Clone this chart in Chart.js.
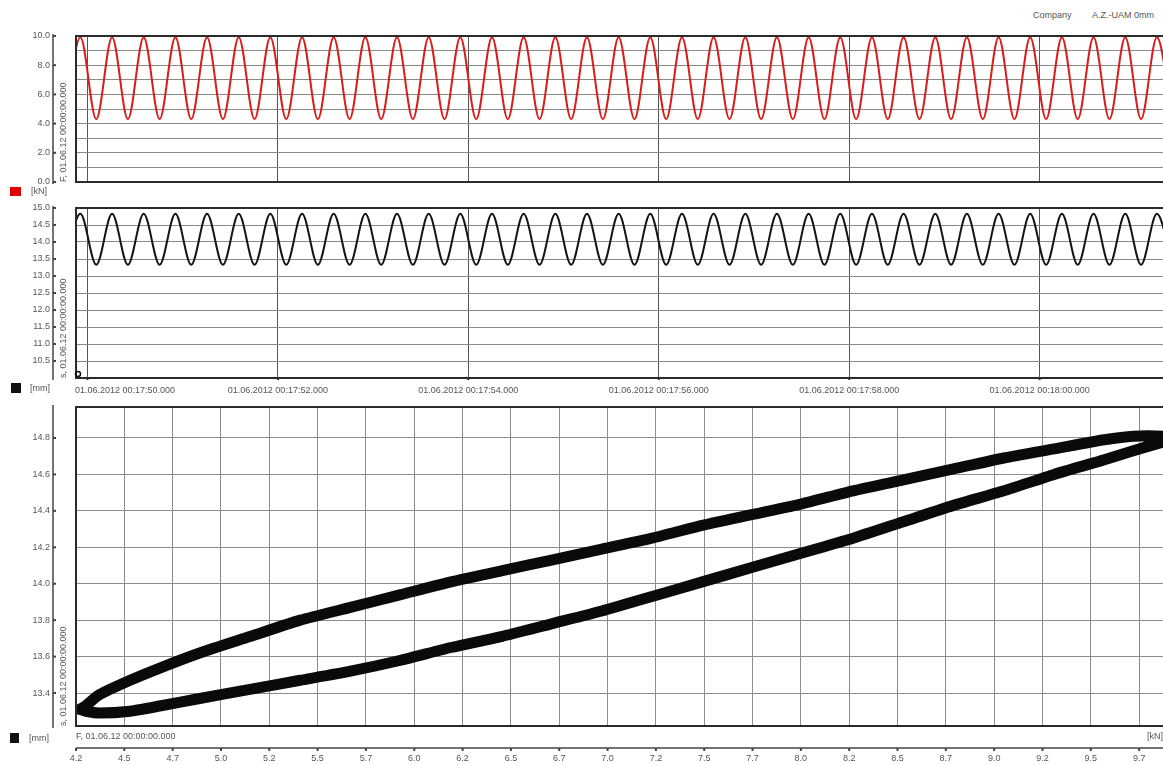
<!DOCTYPE html>
<html>
<head>
<meta charset="utf-8">
<script src="https://cdn.jsdelivr.net/npm/chart.js@4.4.1/dist/chart.umd.min.js"></script>
<style>
  html, body { margin: 0; padding: 0; background: #fff; overflow: hidden; }
  .wrap { position: relative; width: 1163px; height: 765px; overflow: hidden; font-family: 'Liberation Sans', Arial, sans-serif; }
  canvas { position: absolute; left: 0; }
  .lbl { position: absolute; font-size: 9px; line-height: 11px; white-space: nowrap; color: #555; }
  .sq { position: absolute; }
</style>
</head>
<body>
<div class="wrap">
  <div class="lbl" style="left:1033px; top:10px;">Company</div>
  <div class="lbl" style="left:1092px; top:10px;">A.Z.-UAM 0mm</div>

  <canvas id="forceChart" width="1172" height="200" style="top:0px;"></canvas>
  <canvas id="travelChart" width="1172" height="230" style="top:190px;"></canvas>
  <canvas id="loopChart" width="1172" height="370" style="top:395px;"></canvas>

  <div class="sq" style="left:10px; top:187px; width:11px; height:9px; background:#e10000;"></div>
  <div class="lbl" style="left:31px; top:186px;">[kN]</div>
  <div class="sq" style="left:11px; top:383px; width:10px; height:10px; background:#111;"></div>
  <div class="lbl" style="left:30px; top:383px;">[mm]</div>
  <div class="sq" style="left:10px; top:733px; width:9px; height:10px; background:#111;"></div>
  <div class="lbl" style="left:29px; top:733px;">[mm]</div>
</div>

<script>
  const FONT = "'Liberation Sans', Arial, sans-serif";

  // time axis (seconds after 01.06.2012 00:17:50.000)
  const timeTicks = [0, 2, 4, 6, 8, 10];
  const timeTickLabels = [
    '01.06.2012 00:17:50.000', '01.06.2012 00:17:52.000', '01.06.2012 00:17:54.000',
    '01.06.2012 00:17:56.000', '01.06.2012 00:17:58.000', '01.06.2012 00:18:00.000'
  ];

  // turning points of the load cycles (trough, peak, trough ...)
  const cycleTimes = [
    -0.240, -0.074, 0.093, 0.259, 0.425, 0.591, 0.758, 0.924, 1.090, 1.256,
    1.423, 1.589, 1.755, 1.921, 2.088, 2.254, 2.420, 2.586, 2.753, 2.919,
    3.085, 3.251, 3.418, 3.584, 3.750, 3.916, 4.083, 4.249, 4.415, 4.581,
    4.748, 4.914, 5.080, 5.246, 5.413, 5.579, 5.745, 5.911, 6.078, 6.244,
    6.410, 6.576, 6.743, 6.909, 7.075, 7.241, 7.408, 7.574, 7.740, 7.906,
    8.073, 8.239, 8.405, 8.571, 8.738, 8.904, 9.070, 9.236, 9.403, 9.569,
    9.735, 9.901, 10.068, 10.234, 10.400, 10.566, 10.733, 10.899, 11.065, 11.231,
    11.398
  ];
  const forceKN = [
    4.30, 9.92, 4.30, 9.92, 4.30, 9.92, 4.30, 9.92, 4.30, 9.92,
    4.30, 9.92, 4.30, 9.92, 4.30, 9.92, 4.30, 9.92, 4.30, 9.92,
    4.30, 9.92, 4.30, 9.92, 4.30, 9.92, 4.30, 9.92, 4.30, 9.92,
    4.30, 9.92, 4.30, 9.92, 4.30, 9.92, 4.30, 9.92, 4.30, 9.92,
    4.30, 9.92, 4.30, 9.92, 4.30, 9.92, 4.30, 9.92, 4.30, 9.92,
    4.30, 9.92, 4.30, 9.92, 4.30, 9.92, 4.30, 9.92, 4.30, 9.92,
    4.30, 9.92, 4.30, 9.92, 4.30, 9.92, 4.30, 9.92, 4.30, 9.92,
    4.30
  ];
  const travelMm = [
    13.33, 14.83, 13.33, 14.83, 13.33, 14.83, 13.33, 14.83, 13.33, 14.83,
    13.33, 14.83, 13.33, 14.83, 13.33, 14.83, 13.33, 14.83, 13.33, 14.83,
    13.33, 14.83, 13.33, 14.83, 13.33, 14.83, 13.33, 14.83, 13.33, 14.83,
    13.33, 14.83, 13.33, 14.83, 13.33, 14.83, 13.33, 14.83, 13.33, 14.83,
    13.33, 14.83, 13.33, 14.83, 13.33, 14.83, 13.33, 14.83, 13.33, 14.83,
    13.33, 14.83, 13.33, 14.83, 13.33, 14.83, 13.33, 14.83, 13.33, 14.83,
    13.33, 14.83, 13.33, 14.83, 13.33, 14.83, 13.33, 14.83, 13.33, 14.83,
    13.33
  ];

  const forceTicks = [0, 1, 2, 3, 4, 5, 6, 7, 8, 9, 10];
  const forceTickLabels = ['0.0', '', '2.0', '', '4.0', '', '6.0', '', '8.0', '', '10.0'];
  const travelTicks = [10, 10.5, 11, 11.5, 12, 12.5, 13, 13.5, 14, 14.5, 15];
  const travelTickLabels = ['', '10.5', '11.0', '11.5', '12.0', '12.5', '13.0', '13.5', '14.0', '14.5', '15.0'];

  // hysteresis loop s over F: upper branch out, lower branch back
  const loopForce = [
    4.27, 4.30, 4.37, 4.53, 4.69, 4.89, 5.15, 5.41, 5.67, 5.93, 6.19, 6.45, 6.71,
    6.97, 7.23, 7.49, 7.75, 8.01, 8.27, 8.53, 8.79, 9.05, 9.31, 9.57, 9.72, 9.88, 9.95,
    9.88, 9.72, 9.57, 9.31, 9.05, 8.79, 8.53, 8.27, 8.01, 7.75, 7.49, 7.23, 6.97,
    6.71, 6.45, 6.19, 5.93, 5.67, 5.41, 5.15, 4.89, 4.69, 4.53, 4.37, 4.30, 4.27
  ];
  const loopTravel = [
    13.31, 13.33, 13.39, 13.47, 13.54, 13.62, 13.71, 13.80, 13.87, 13.94, 14.01, 14.07, 14.13,
    14.19, 14.25, 14.32, 14.38, 14.44, 14.51, 14.57, 14.63, 14.69, 14.74, 14.79, 14.81, 14.81, 14.80,
    14.78, 14.73, 14.68, 14.60, 14.51, 14.43, 14.34, 14.25, 14.17, 14.09, 14.01, 13.93, 13.85,
    13.78, 13.71, 13.65, 13.58, 13.52, 13.47, 13.42, 13.37, 13.33, 13.30, 13.29, 13.30, 13.31
  ];
  const loopForceTicks = [
    4.25, 4.5, 4.75, 5, 5.25, 5.5, 5.75, 6, 6.25, 6.5, 6.75, 7, 7.25, 7.5, 7.75,
    8, 8.25, 8.5, 8.75, 9, 9.25, 9.5, 9.75
  ];
  const loopForceLabels = [
    '4.2', '4.5', '4.7', '5.0', '5.2', '5.5', '5.7', '6.0', '6.2', '6.5', '6.7', '7.0',
    '7.2', '7.5', '7.7', '8.0', '8.2', '8.5', '8.7', '9.0', '9.2', '9.5', '9.7'
  ];
  const loopTravelTicks = [13.4, 13.6, 13.8, 14.0, 14.2, 14.4, 14.6, 14.8];
  const loopTravelLabels = ['13.4', '13.6', '13.8', '14.0', '14.2', '14.4', '14.6', '14.8'];

  const toPoints = (xs, ys) => xs.map((x, i) => ({ x, y: ys[i] }));

  // frame, detached y axis line, rotated channel title, extra x labels
  const panelDeco = {
    id: 'panelDeco',
    afterDatasetsDraw(chart, args, opts) {
      const { ctx, chartArea: a } = chart;
      const yScale = chart.scales.y;
      const xScale = chart.scales.x;
      ctx.save();

      ctx.strokeStyle = '#2b2b2b';
      ctx.lineWidth = 2;
      ctx.strokeRect(a.left, a.top, a.right - a.left, a.bottom - a.top);

      // y axis line with tick dots
      const axisX = a.left - 23;
      ctx.strokeStyle = '#444';
      ctx.lineWidth = 1.5;
      ctx.beginPath();
      ctx.moveTo(axisX, a.top - 2);
      ctx.lineTo(axisX, a.bottom + 2);
      ctx.stroke();
      ctx.lineWidth = 2;
      yScale.ticks.forEach((t, i) => {
        if (!opts.yLabels[i]) return;
        const py = yScale.getPixelForValue(t.value);
        ctx.beginPath();
        ctx.moveTo(axisX, py);
        ctx.lineTo(axisX + 3, py);
        ctx.stroke();
      });

      ctx.fillStyle = '#555';
      ctx.font = '9px ' + FONT;
      ctx.save();
      ctx.translate(a.left - 12, a.bottom);
      ctx.rotate(-Math.PI / 2);
      ctx.textAlign = 'left';
      ctx.textBaseline = 'middle';
      ctx.fillText(opts.title, 0, 0);
      ctx.restore();

      if (opts.timeLabels) {
        ctx.textBaseline = 'middle';
        ctx.textAlign = 'left';
        ctx.strokeStyle = '#333';
        xScale.ticks.forEach((t, i) => {
          const px = xScale.getPixelForValue(t.value);
          ctx.beginPath();
          ctx.moveTo(px, a.bottom);
          ctx.lineTo(px, a.bottom + 2);
          ctx.stroke();
          const text = timeTickLabels[i];
          const w = ctx.measureText(text).width;
          ctx.fillText(text, Math.max(px - w / 2, a.left - 1), a.bottom + 13);
        });
      }

      if (opts.marker) {
        ctx.strokeStyle = '#111';
        ctx.lineWidth = 1.5;
        ctx.beginPath();
        ctx.arc(a.left + 2, a.bottom - 4, 2.5, 0, Math.PI * 2);
        ctx.stroke();
      }

      if (opts.loopAxis) {
        ctx.textBaseline = 'middle';
        ctx.textAlign = 'left';
        ctx.fillText('F, 01.06.12 00:00:00.000', a.left, a.bottom + 11);
        ctx.fillText('[kN]', 1147, a.bottom + 11);
        const lineY = a.bottom + 22;
        ctx.strokeStyle = '#444';
        ctx.lineWidth = 1.5;
        ctx.beginPath();
        ctx.moveTo(a.left, lineY);
        ctx.lineTo(a.right, lineY);
        ctx.stroke();
        ctx.textAlign = 'center';
        ctx.lineWidth = 2;
        xScale.ticks.forEach((t, i) => {
          const px = xScale.getPixelForValue(t.value);
          ctx.beginPath();
          ctx.moveTo(px, lineY);
          ctx.lineTo(px, lineY + 3);
          ctx.stroke();
          ctx.fillText(loopForceLabels[i], px, lineY + 11);
        });
      }
      ctx.restore();
    }
  };

  const yAxis = (min, max, ticks, labels, gridColor) => ({
    type: 'linear',
    min,
    max,
    afterFit: (scale) => {
      scale.width = 76;
      scale.paddingTop = 0;
      scale.paddingBottom = 0;
    },
    afterBuildTicks: (scale) => { scale.ticks = ticks.map((v) => ({ value: v })); },
    border: { display: false },
    grid: { color: gridColor, lineWidth: 1, drawTicks: false },
    ticks: {
      autoSkip: false,
      padding: 26,
      color: '#555',
      font: { size: 9, family: FONT },
      callback: (value, index) => labels[index]
    }
  });

  const xAxis = (min, max, ticks, gridColor) => ({
    type: 'linear',
    min,
    max,
    afterBuildTicks: (scale) => { scale.ticks = ticks.map((v) => ({ value: v })); },
    border: { display: false },
    grid: { color: gridColor, lineWidth: 1, drawTicks: false },
    ticks: { display: false }
  });

  const baseOptions = (padding, x, y, deco) => ({
    responsive: false,
    animation: false,
    events: [],
    layout: { padding },
    scales: { x, y },
    plugins: {
      legend: { display: false },
      tooltip: { enabled: false },
      panelDeco: deco
    }
  });

  new Chart(document.getElementById('forceChart'), {
    type: 'line',
    data: {
      datasets: [{
        data: toPoints(cycleTimes, forceKN),
        borderColor: '#d91c1c',
        borderWidth: 2,
        pointRadius: 0,
        cubicInterpolationMode: 'monotone',
        fill: false
      }]
    },
    options: baseOptions(
      { top: 36, bottom: 18, left: 0, right: 0 },
      xAxis(-0.12, 11.39, timeTicks, '#555'),
      yAxis(0, 10, forceTicks, forceTickLabels, '#8a8a8a'),
      { title: 'F, 01.06.12 00:00:00.000', yLabels: forceTickLabels }
    ),
    plugins: [panelDeco]
  });

  new Chart(document.getElementById('travelChart'), {
    type: 'line',
    data: {
      datasets: [{
        data: toPoints(cycleTimes, travelMm),
        borderColor: '#141414',
        borderWidth: 2,
        pointRadius: 0,
        cubicInterpolationMode: 'monotone',
        fill: false
      }]
    },
    options: baseOptions(
      { top: 18, bottom: 42, left: 0, right: 0 },
      xAxis(-0.12, 11.39, timeTicks, '#555'),
      yAxis(10, 15, travelTicks, travelTickLabels, '#8a8a8a'),
      { title: 's, 01.06.12 00:00:00.000', yLabels: travelTickLabels, timeLabels: true, marker: true }
    ),
    plugins: [panelDeco]
  });

  new Chart(document.getElementById('loopChart'), {
    type: 'line',
    data: {
      datasets: [{
        data: toPoints(loopForce, loopTravel),
        borderColor: '#0a0a0a',
        borderWidth: 11,
        borderJoinStyle: 'round',
        borderCapStyle: 'round',
        pointRadius: 0,
        tension: 0.2,
        fill: false
      }]
    },
    options: baseOptions(
      { top: 12, bottom: 39, left: 0, right: 0 },
      xAxis(4.25, 9.92, loopForceTicks, '#8c8c8c'),
      yAxis(13.219, 14.97, loopTravelTicks, loopTravelLabels, '#8c8c8c'),
      { title: 's, 01.06.12 00:00:00.000', yLabels: loopTravelLabels, loopAxis: true }
    ),
    plugins: [panelDeco]
  });
</script>
</body>
</html>
